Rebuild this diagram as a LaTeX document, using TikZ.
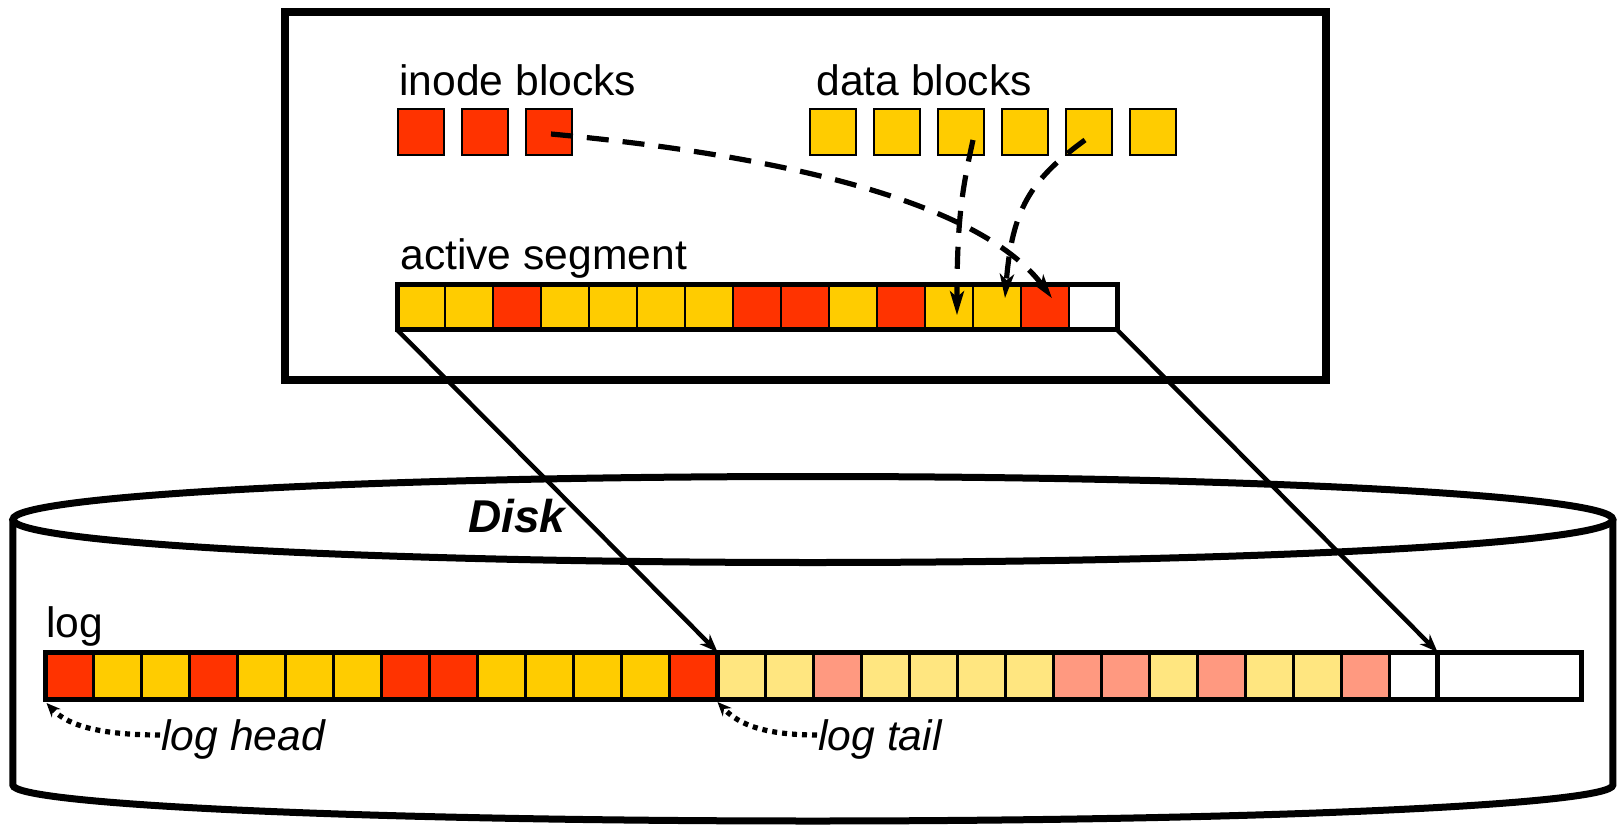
\documentclass[tikz,border=0pt]{standalone}
\usepackage{fontspec}
\setmainfont{Liberation Sans}
\usetikzlibrary{arrows.meta,calc}
\definecolor{cred}{HTML}{FF3300}
\definecolor{cyel}{HTML}{FFCC00}
\definecolor{clyel}{HTML}{FFE680}
\definecolor{cpink}{HTML}{FF9980}
\begin{document}
\begin{tikzpicture}[x=0.5pt,y=-0.5pt,
  lbl/.style={font=\fontsize{21.3}{25}\selectfont, inner sep=0, anchor=base west},
  ilbl/.style={lbl, font=\fontsize{21.3}{25}\selectfont\itshape},
  blk/.style={draw, line width=1.1pt, minimum size=23.15pt, inner sep=0, outer sep=0},
  cell/.style={draw, line width=1.1pt, minimum width=24pt, inner sep=0, outer sep=0},
  segcell/.style={cell, minimum height=22.5pt},
  logcell/.style={cell, minimum height=23.5pt},
  frame/.style={draw, line width=2.5pt},
  disk/.style={draw, line width=3.5pt},
  diag/.style={line width=2.2pt, -{Stealth[length=9pt,width=7pt]}},
  dasharrow/.style={line width=2.6pt, dash pattern=on 11pt off 7pt, -{Stealth[length=12pt,width=7pt,inset=3pt]}},
  dotarrow/.style={line width=2.6pt, dash pattern=on 2.5pt off 2.5pt, -{Stealth[length=7pt,width=6pt]}}
]
\useasboundingbox (0,0) rectangle (1619,825);

% disk
\draw[disk] (812.85,519.5) ellipse [x radius=800, y radius=43];
\draw[disk] (12.85,519.5) -- (12.85,785) .. controls (12.85,804.9) and (371,821) .. (812.85,821)
  .. controls (1254.7,821) and (1612.85,804.9) .. (1612.85,785) -- (1612.85,519.5);
\node[font=\fontsize{23}{27}\selectfont\bfseries\itshape, inner sep=0, anchor=base] (disk) at (517,532.7) {Disk};

% log
\node[lbl] (loglab) at (46,637) {log};
\foreach \c [count=\i] in {cred,cyel,cyel,cred,cyel,cyel,cyel,cred,cred,cyel,cyel,cyel,cyel,cred}
  \node[logcell, fill=\c] (l\i) at ({45.5+24+48*(\i-1)},675.5) {};
\foreach \c [count=\i from 15] in {clyel,clyel,cpink,clyel,clyel,clyel,clyel,cpink,cpink,clyel,cpink,clyel,clyel,cpink,white}
  \node[logcell, fill=\c] (l\i) at ({45.5+24+48*(\i-1)},675.5) {};
\node[logcell, minimum width=71.75pt, fill=white] (lbig) at (1509.25,675.5) {};
\draw[frame] (l1.north west) rectangle (l14.south east);
\draw[frame] (l15.north west) rectangle (l29.south east);
\draw[frame] (lbig.north west) rectangle (lbig.south east);

\node[ilbl] (hd) at (161,750) {log head};
\node[ilbl] (tl) at (818,750) {log tail};
\draw[dotarrow] ($(hd.base west)+(-1,-15)$) .. controls +(-70,0) and +(18,19) .. ($(l1.south west)+(1,4)$);
\draw[dotarrow] ($(tl.base west)+(-1,-15)$) .. controls +(-60,0) and +(18,19) .. ($(l15.south west)+(0,3)$);

% memory box
\node[draw, line width=4pt, minimum width=520.25pt, minimum height=184pt, inner sep=0] (mem) at (805.25,196) {};
\node[lbl] (ilab) at (399,95) {inode blocks};
\node[lbl] (dlab) at (816,95) {data blocks};
\node[lbl] (alab) at (400,269.5) {active segment};
\foreach \i in {1,2,3}
  \node[blk, fill=cred] (i\i) at ({421+64*(\i-1)},132) {};
\foreach \i in {1,...,6}
  \node[blk, fill=cyel] (d\i) at ({833+64*(\i-1)},132) {};
\foreach \c [count=\i] in {cyel,cyel,cred,cyel,cyel,cyel,cyel,cred,cred,cyel,cred,cyel,cyel,cred,white}
  \node[segcell, fill=\c] (s\i) at ({397+24+48*(\i-1)},307.2) {};
\draw[frame] (s1.north west) rectangle (s15.south east);

% arrows
\draw[dasharrow] ($(i3.center)+(2,2)$) .. controls (830,160) and (990,215) .. ($(s14.center)+(7,-9)$);
\draw[dasharrow] ($(d3.center)+(12,8)$) .. controls (962,190) and (957,220) .. ($(s12.center)+(8,8)$);
\draw[dasharrow] ($(d5.center)+(-4,8)$) .. controls (1030,180) and (1012,210) .. ($(s13.center)+(8,-9)$);
\draw[diag] (s1.south west) -- (l15.north west);
\draw[diag] (s15.south east) -- (l29.north east);
\end{tikzpicture}
\end{document}
